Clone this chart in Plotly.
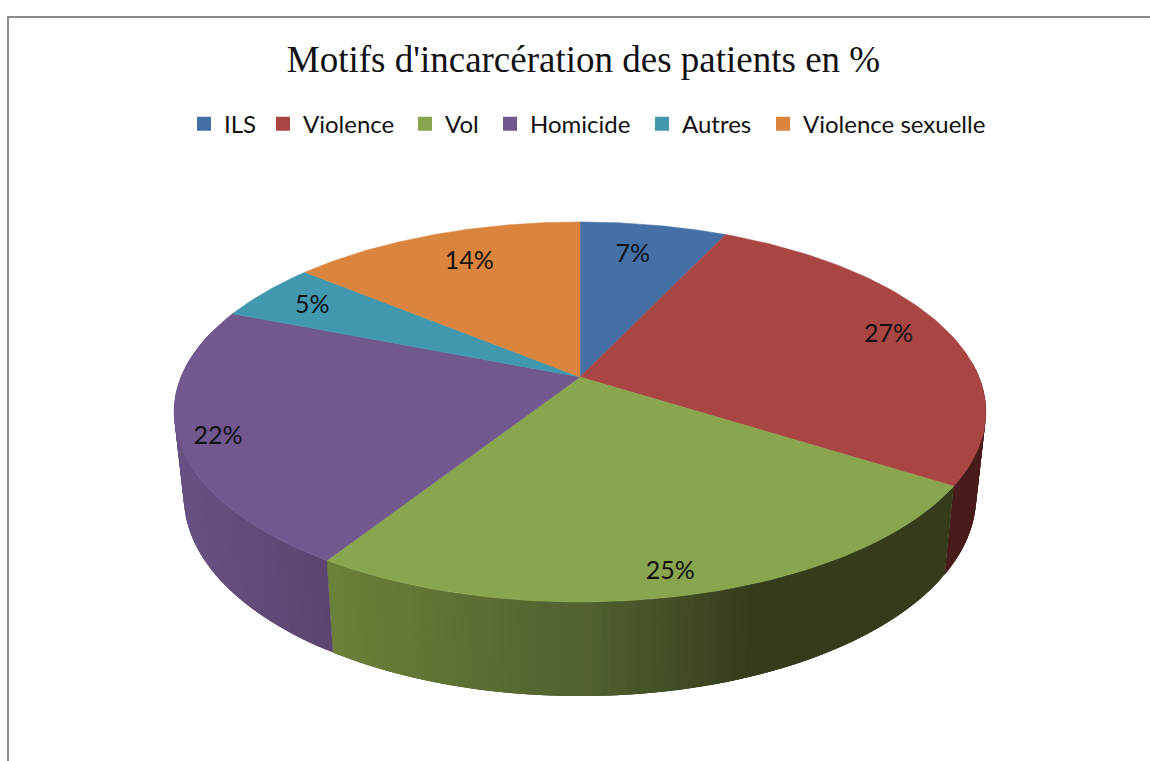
import numpy as np
import plotly.graph_objects as go

# values (percent)
categories = ["ILS", "Violence", "Vol", "Homicide", "Autres", "Violence sexuelle"]
values = [7, 27, 25, 22, 5, 14]
top_colors = ["#4470a6", "#a94644", "#89a54e", "#71588f", "#4198af", "#db843d"]
title_text = "Motifs d'incarcération des patients en %"

# label placement on each slice: radius, and degrees off the slice's middle
label_radius = [0.77, 0.84, 0.91, 0.91, 0.83, 0.77]
label_shift = [-1.3, 0, 0.6, -2, -1, 1.2]

# left edge of each legend entry, in pixels
legend_left = [184, 263, 405, 490, 642, 763]

# tilted disc, in pixel units of the axes
CX, CY = 580, 377
SX, SY, PERSP = 399, 183.6, 0.184
WALL_SCALE_X, WALL_SCALE_Y, WALL_SHIFT = 0.976, 1.05, 64


def top_xy(theta, r=1.0):
    # theta in degrees, clockwise from 12 o'clock
    t = np.radians(theta)
    px, py = r * np.sin(t), r * np.cos(t)
    w = 1 + PERSP * py
    return CX + SX * px / w, CY - SY * py / w


def wall_xy(theta):
    x, y = top_xy(theta)
    return CX + WALL_SCALE_X * (x - CX), WALL_SHIFT + WALL_SCALE_Y * y


def wall_color(i, x):
    # side shading runs left to right
    if i == 2:
        r = np.interp(x, [330, 600, 760], [0x6b, 0x50, 0x34])
        g = np.interp(x, [330, 600, 760], [0x81, 0x5f, 0x3c])
        b = np.interp(x, [330, 600, 760], [0x39, 0x2e, 0x1b])
    elif i == 3:
        r = np.interp(x, [185, 330], [0x67, 0x5b])
        g = np.interp(x, [185, 330], [0x51, 0x45])
        b = np.interp(x, [185, 330], [0x83, 0x6f])
    else:
        return "#481c1a"
    return f"rgb({r:.0f},{g:.0f},{b:.0f})"


edges = np.cumsum([0] + values) * 3.6
fig = go.Figure()

# side walls first, the top faces cover what is behind
# strips overlap by a couple of degrees so no seams show
for i in range(len(values)):
    lo, hi = max(edges[i], 85), min(edges[i + 1], 285)
    if hi <= lo:
        continue
    for a in np.arange(lo, hi, 1.0):
        th = np.linspace(a, min(a + 3, hi), 6)
        x1, y1 = top_xy(th)
        x2, y2 = wall_xy(th)
        col = wall_color(i, float(x1[0]))
        fig.add_trace(go.Scatter(
            x=x1.tolist() + x2[::-1].tolist() + [x1[0]],
            y=y1.tolist() + y2[::-1].tolist() + [y1[0]],
            mode="lines", fill="toself", fillcolor=col,
            line=dict(color=col, width=0),
            showlegend=False, hoverinfo="skip"))

# top faces
for i in range(len(values)):
    th = np.linspace(edges[i], edges[i + 1], 80)
    x, y = top_xy(th)
    fig.add_trace(go.Scatter(
        x=[CX] + x.tolist() + [CX], y=[CY] + y.tolist() + [CY],
        mode="lines", fill="toself", fillcolor=top_colors[i],
        line=dict(color=top_colors[i], width=0.5),
        showlegend=False, hoverinfo="skip"))

# percentage labels
mids = (edges[:-1] + edges[1:]) / 2 + np.array(label_shift)
lx, ly = zip(*[top_xy(m, r) for m, r in zip(mids, label_radius)])
fig.add_trace(go.Scatter(
    x=lx, y=ly, mode="text", text=[f"{v}%" for v in values],
    textfont=dict(family="Lato", size=25, color="#111111"),
    showlegend=False, hoverinfo="skip"))

# one legend per entry, the reference spacing is not even
legends = {}
for i, (name, col) in enumerate(zip(categories, top_colors)):
    key = "legend" if i == 0 else f"legend{i + 1}"
    fig.add_trace(go.Scatter(
        x=[None], y=[None], mode="markers", name=name, legend=key,
        marker=dict(symbol="square", size=14, color=col)))
    legends[key] = dict(orientation="h", x=legend_left[i] / 1150, xanchor="left",
                        y=0.837, yanchor="middle",
                        font=dict(family="Lato", size=24, color="#111111"),
                        bgcolor="rgba(0,0,0,0)")

fig.update_layout(
    width=1150, height=761,
    margin=dict(l=0, r=0, t=0, b=0),
    paper_bgcolor="white", plot_bgcolor="white",
    title=dict(text=title_text, x=0.5074, xanchor="center", y=0.923, yanchor="middle",
               font=dict(family="Liberation Serif", size=37, color="#111111")),
    xaxis=dict(range=[0, 1150], visible=False, fixedrange=True),
    yaxis=dict(range=[761, 0], visible=False, fixedrange=True),
    shapes=[dict(type="rect", xref="x", yref="y", x0=8, y0=17, x1=1160, y1=780,
                 line=dict(color="#8c8c8c", width=2), layer="below")],
    **legends,
)

# the default page body has an 8px margin
fig.write_html("out.html", config={"displayModeBar": False},
               post_script="document.body.style.margin='0';")
